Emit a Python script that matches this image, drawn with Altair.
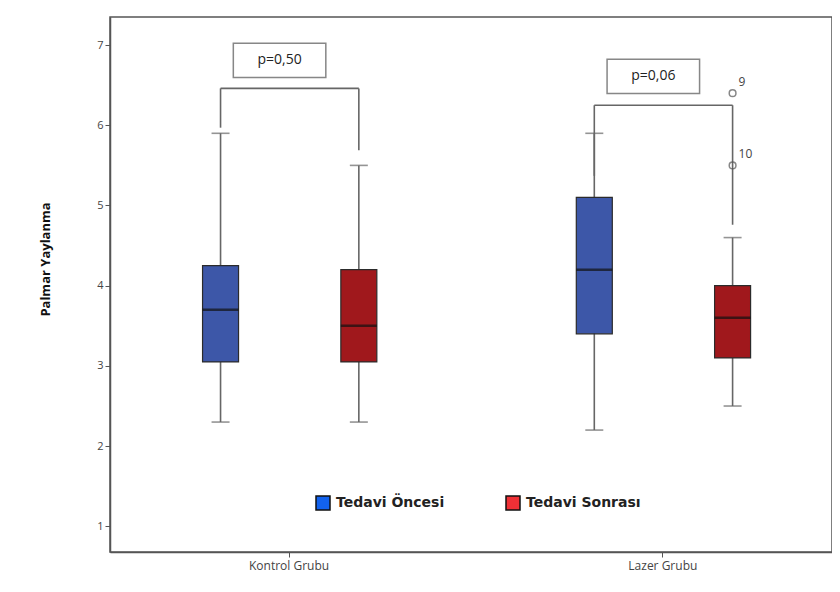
import altair as alt
import pandas as pd

# ---------------- data ----------------
groups = ["Kontrol Grubu", "Lazer Grubu"]
series = ["Tedavi Öncesi", "Tedavi Sonrası"]

box_group = ["Kontrol Grubu", "Kontrol Grubu", "Lazer Grubu", "Lazer Grubu"]
box_series = ["Tedavi Öncesi", "Tedavi Sonrası", "Tedavi Öncesi", "Tedavi Sonrası"]
mins = [2.3, 2.3, 2.2, 2.5]
q1s = [3.05, 3.05, 3.4, 3.1]
medians = [3.7, 3.5, 4.2, 3.6]
q3s = [4.25, 4.2, 5.1, 4.0]
maxs = [5.9, 5.5, 5.9, 4.6]

outlier_group = ["Lazer Grubu", "Lazer Grubu"]
outlier_series = ["Tedavi Sonrası", "Tedavi Sonrası"]
outlier_values = [6.4, 5.5]
outlier_ids = ["9", "10"]

p_labels = ["p=0,50", "p=0,06"]
bracket_top = [6.46, 6.25]
bracket_left_end = [5.97, 5.37]
bracket_right_end = [5.69, 4.76]
p_label_y = [6.81, 6.61]

# ---------------- layout helpers ----------------
group_index = {g: i + 1 for i, g in enumerate(groups)}
series_shift = {"Tedavi Öncesi": -0.182, "Tedavi Sonrası": 0.188}
box_fill = {"Tedavi Öncesi": "#3d57a8", "Tedavi Sonrası": "#a0181c"}
legend_fill = ["#1262ee", "#ef3036"]

boxes = pd.DataFrame({
    "group": box_group, "series": box_series,
    "min": mins, "q1": q1s, "median": medians, "q3": q3s, "max": maxs,
})
boxes["pos"] = [group_index[g] + series_shift[s] for g, s in zip(box_group, box_series)]
boxes["fill"] = [box_fill[s] for s in box_series]

outliers = pd.DataFrame({
    "group": outlier_group, "series": outlier_series,
    "value": outlier_values, "id": outlier_ids,
})
outliers["pos"] = [group_index[g] + series_shift[s] for g, s in zip(outlier_group, outlier_series)]

brackets = pd.DataFrame({
    "group": groups, "label": p_labels, "top": bracket_top,
    "left_end": bracket_left_end, "right_end": bracket_right_end, "label_y": p_label_y,
})
brackets["center"] = [group_index[g] for g in groups]
brackets["left"] = [group_index[g] + series_shift["Tedavi Öncesi"] for g in groups]
brackets["right"] = [group_index[g] + series_shift["Tedavi Sonrası"] for g in groups]

FONT = "Open Sans"
GREY = "#666666"

x_scale = alt.Scale(domain=[0.5356, 2.4406], nice=False, zero=False)
y_scale = alt.Scale(domain=[0.68, 7.35], nice=False, zero=False)

x_axis = alt.Axis(
    values=[1, 2], title=None, grid=False,
    labelExpr="datum.value == 1 ? 'Kontrol Grubu' : 'Lazer Grubu'",
    labelFont=FONT, labelFontSize=12, labelColor="#444444",
    tickSize=5, tickColor="#555555", domainColor="#555555", domainWidth=1.5,
    labelPadding=3,
)
y_axis = alt.Axis(
    values=[1, 2, 3, 4, 5, 6, 7], format="d", title="Palmar Yaylanma", grid=False,
    labelFont=FONT, labelFontSize=11, labelColor="#444444",
    tickSize=5, tickColor="#555555", domainColor="#555555", domainWidth=1.5,
    titleFont=FONT, titleFontSize=13, titleFontWeight="bold", titleColor="#111111",
    titleX=-65, titleY=242, titleAngle=270, titleAlign="center", titleBaseline="middle",
)

base = alt.Chart(boxes)

whiskers = base.mark_rule(color=GREY, strokeWidth=1.6).encode(
    x=alt.X("pos:Q", scale=x_scale, axis=x_axis),
    y=alt.Y("min:Q", scale=y_scale, axis=y_axis),
    y2="max:Q",
)
caps_low = base.mark_tick(orient="horizontal", size=18, thickness=1.6, color=GREY).encode(
    x="pos:Q", y="min:Q")
caps_high = base.mark_tick(orient="horizontal", size=18, thickness=1.6, color=GREY).encode(
    x="pos:Q", y="max:Q")
box = base.mark_bar(size=36, stroke="#2b2b2b", strokeWidth=1.2).encode(
    x="pos:Q", y="q1:Q", y2="q3:Q",
    fill=alt.Fill("fill:N", scale=None),
)
median = base.mark_tick(orient="horizontal", size=36, thickness=2.5, color="#111111").encode(
    x="pos:Q", y="median:Q")

legend_layer = base.mark_square(opacity=0, size=10).encode(
    x="pos:Q", y="median:Q",
    color=alt.Color(
        "series:N",
        scale=alt.Scale(domain=series, range=legend_fill),
        legend=alt.Legend(
            title=None, orient="none", legendX=205, legendY=478, direction="horizontal",
            symbolType="square", symbolSize=196, symbolStrokeColor="#111111",
            symbolStrokeWidth=1.5, symbolOpacity=1,
            labelFont="DejaVu Sans", labelFontSize=14, labelFontWeight="bold",
            labelColor="#222222", columnPadding=58, labelOffset=5,
        ),
    ),
)

out_ch = alt.Chart(outliers)
out_pts = out_ch.mark_point(shape="circle", filled=False, size=45, stroke="#555555",
                            strokeWidth=1.5).encode(x="pos:Q", y="value:Q")
out_txt = out_ch.mark_text(align="left", dx=6, dy=-11, font=FONT, fontSize=12,
                           color="#444444").encode(x="pos:Q", y="value:Q", text="id:N")

br = alt.Chart(brackets)
br_h = br.mark_rule(color=GREY, strokeWidth=1.6).encode(x="left:Q", x2="right:Q", y="top:Q")
br_l = br.mark_rule(color=GREY, strokeWidth=1.6).encode(x="left:Q", y="top:Q", y2="left_end:Q")
br_r = br.mark_rule(color=GREY, strokeWidth=1.6).encode(x="right:Q", y="top:Q", y2="right_end:Q")
p_box = br.mark_point(shape="M-1,-0.37H1V0.37H-1Z", size=8556, filled=False,
                      stroke="#555555", strokeWidth=1.5, xOffset=-9).encode(
    x="center:Q", y="label_y:Q")
p_txt = br.mark_text(font=FONT, fontSize=14, color="#222222", xOffset=-9).encode(
    x="center:Q", y="label_y:Q", text="label:N")

chart = alt.layer(
    whiskers, caps_low, caps_high, box, median,
    br_h, br_l, br_r, p_box, p_txt,
    out_pts, out_txt, legend_layer,
).properties(
    width=722, height=535,
    background="white",
    autosize=alt.AutoSizeParams(type="none"),
    padding={"left": 102, "top": 9, "right": 0, "bottom": 30},
).configure_view(
    stroke="#555555", strokeWidth=1.5,
)

chart.save("out.html", embed_options={"renderer": "svg", "actions": False})
